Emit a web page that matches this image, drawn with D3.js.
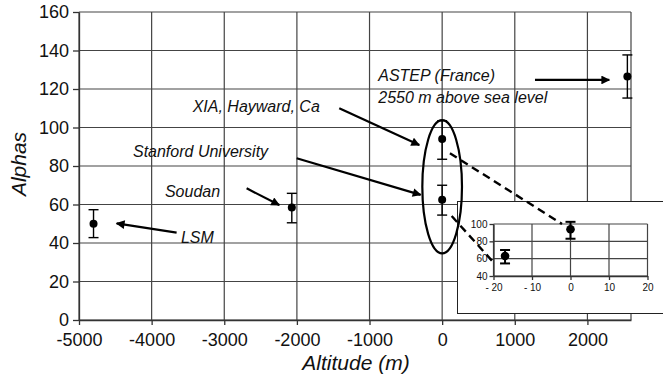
<!DOCTYPE html>
<html>
<head>
<meta charset="utf-8">
<script src="https://cdn.jsdelivr.net/npm/d3@7"></script>
<style>
  body { margin: 0; background: #fff; }
  svg { display: block; font-family: "Liberation Sans", Arial, sans-serif; }
  .grid line { stroke: #444; stroke-width: 1.2; }
  .axis path, .axis line { stroke: #333; stroke-width: 1.3; }
  .axis text { fill: #111; }
  .note { font-style: italic; fill: #111; }
</style>
</head>
<body>
<div id="chart"></div>
<script>
// ---- data ----
var sites    = ["LSM", "Soudan", "Stanford University", "XIA, Hayward, Ca", "ASTEP (France)"];
var altitude = [-4800, -2070, 0, 0, 2550];
var alphas   = [50, 58.5, 62.5, 94, 126.5];
var errLo    = [42.8, 50.5, 54.5, 83.5, 115.3];
var errHi    = [57.3, 65.8, 70, 103.5, 137.7];

var xTicks = [-5000, -4000, -3000, -2000, -1000, 0, 1000, 2000];
var yTicks = [0, 20, 40, 60, 80, 100, 120, 140, 160];

// zoomed inset (altitude in m)
var insetAlt   = [-17, 0];
var insetAlpha = [63, 94];
var insetLo    = [54.5, 83];
var insetHi    = [70, 102.5];
var insetXTicks = [-20, -10, 0, 10, 20];
var insetYTicks = [40, 60, 80, 100];

// annotation text and arrows, in main-chart data units
var labels = [
  {t: "XIA, Hayward, Ca",       x: -3435, y: 108.2},
  {t: "Stanford University",    x: -4257, y: 84.8},
  {t: "Soudan",                 x: -3817, y: 63.7},
  {t: "LSM",                    x: -3596, y: 39.8},
  {t: "ASTEP (France)",         x: -880,  y: 124.2},
  {t: "2550 m above sea level", x: -880,  y: 112.6}
];
var arrows = [
  [[-1417, 110], [-315, 90.9]],
  [[-2003, 84], [-296, 65]],
  [[-2692, 68.4], [-2243, 59.7]],
  [[-3656, 45.4], [-4482, 50.2]],
  [[1278, 124.7], [2301, 124.7]]
];
var dashes = [
  [[107, 86.6], [1650, 49.9]],
  [[131, 54], [727, 29.1]]
];

var width = 663, height = 380;
var margin = {top: 12, right: 32, bottom: 60, left: 79};

var svg = d3.select("#chart").append("svg")
    .attr("width", width)
    .attr("height", height);

svg.append("rect").attr("width", width).attr("height", height).attr("fill", "#fff");

var x = d3.scaleLinear().domain([-5000, 2600]).range([margin.left, width - margin.right]);
var y = d3.scaleLinear().domain([0, 160]).range([height - margin.bottom, margin.top]);

// plain hyphen minus, no thousands separator
var plain = function(d) { return String(d); };

// grid
var grid = svg.append("g").attr("class", "grid");
grid.selectAll(".gx").data(xTicks.concat([2600])).enter().append("line")
    .attr("x1", function(d) { return x(d); }).attr("x2", function(d) { return x(d); })
    .attr("y1", y(0)).attr("y2", y(160));
grid.selectAll(".gy").data(yTicks).enter().append("line")
    .attr("x1", x(-5000)).attr("x2", x(2600))
    .attr("y1", function(d) { return y(d); }).attr("y2", function(d) { return y(d); });

// axes
svg.append("g")
    .attr("class", "axis")
    .attr("transform", "translate(0," + y(0) + ")")
    .call(d3.axisBottom(x).tickValues(xTicks).tickFormat(plain).tickSize(5).tickSizeOuter(0).tickPadding(8))
    .call(function(g) { g.selectAll("text").attr("font-size", 18).attr("dy", "0.71em"); });

svg.append("g")
    .attr("class", "axis")
    .attr("transform", "translate(" + x(-5000) + ",0)")
    .call(d3.axisLeft(y).tickValues(yTicks).tickFormat(plain).tickSize(6).tickSizeOuter(0).tickPadding(4))
    .call(function(g) { g.selectAll("text").attr("font-size", 18); });

svg.append("text")
    .attr("class", "note")
    .attr("x", (x(-5000) + x(2600)) / 2 + 1)
    .attr("y", 370)
    .attr("text-anchor", "middle")
    .attr("font-size", 21)
    .text("Altitude (m)");

svg.append("text")
    .attr("class", "note")
    .attr("transform", "translate(26," + 164 + ") rotate(-90)")
    .attr("text-anchor", "middle")
    .attr("font-size", 21)
    .text("Alphas");

// error bars + points
function drawPoints(g, xs, ys, lo, hi, sx, sy, r, sw) {
  var idx = d3.range(xs.length);
  var cap = 5;
  g.selectAll(null).data(idx).enter().append("line")
    .attr("x1", function(i) { return sx(xs[i]); }).attr("x2", function(i) { return sx(xs[i]); })
    .attr("y1", function(i) { return sy(lo[i]); }).attr("y2", function(i) { return sy(hi[i]); })
    .attr("stroke", "#000").attr("stroke-width", sw);
  [lo, hi].forEach(function(arr) {
    g.selectAll(null).data(idx).enter().append("line")
      .attr("x1", function(i) { return sx(xs[i]) - cap; }).attr("x2", function(i) { return sx(xs[i]) + cap; })
      .attr("y1", function(i) { return sy(arr[i]); }).attr("y2", function(i) { return sy(arr[i]); })
      .attr("stroke", "#000").attr("stroke-width", sw);
  });
  g.selectAll(null).data(idx).enter().append("circle")
    .attr("cx", function(i) { return sx(xs[i]); })
    .attr("cy", function(i) { return sy(ys[i]); })
    .attr("r", r).attr("fill", "#000");
}

drawPoints(svg.append("g"), altitude, alphas, errLo, errHi, x, y, 4, 1.4);

// inset
var inset = svg.append("g");
inset.append("rect")
    .attr("x", 457.5).attr("y", 201.5)
    .attr("width", 240).attr("height", 112)
    .attr("fill", "#fff").attr("stroke", "#222").attr("stroke-width", 1);

var ix = d3.scaleLinear().domain([-20, 20]).range([493.5, 647.5]);
var iy = d3.scaleLinear().domain([40, 100]).range([276, 224]);

var ig = inset.append("g").attr("class", "grid");
ig.selectAll(".gx").data(insetXTicks).enter().append("line")
    .attr("x1", function(d) { return ix(d); }).attr("x2", function(d) { return ix(d); })
    .attr("y1", iy(40)).attr("y2", iy(100));
ig.selectAll(".gy").data(insetYTicks).enter().append("line")
    .attr("x1", ix(-20)).attr("x2", ix(20))
    .attr("y1", function(d) { return iy(d); }).attr("y2", function(d) { return iy(d); });

inset.append("g")
    .attr("class", "axis")
    .attr("transform", "translate(0," + iy(40) + ")")
    .call(d3.axisBottom(ix).tickValues(insetXTicks).tickSize(4).tickSizeOuter(0).tickPadding(4)
      .tickFormat(function(d) { return d < 0 ? "- " + Math.abs(d) : String(d); }))
    .call(function(g) { g.selectAll("text").attr("font-size", 10).attr("dy", "0.71em"); });

inset.append("g")
    .attr("class", "axis")
    .attr("transform", "translate(" + ix(-20) + ",0)")
    .call(d3.axisLeft(iy).tickValues(insetYTicks).tickFormat(plain).tickSize(4).tickSizeOuter(0).tickPadding(2))
    .call(function(g) { g.selectAll("text").attr("font-size", 10); });

drawPoints(inset.append("g"), insetAlt, insetAlpha, insetLo, insetHi, ix, iy, 4.3, 2);

// ellipse round the two sea-level sites
svg.append("ellipse")
    .attr("cx", x(0)).attr("cy", y(69.2))
    .attr("rx", x(273) - x(0)).attr("ry", y(34.6) - y(69.2))
    .attr("fill", "none").attr("stroke", "#000").attr("stroke-width", 2.2);

// arrows
svg.append("defs").append("marker")
    .attr("id", "head")
    .attr("viewBox", "0 0 10 10")
    .attr("refX", 9).attr("refY", 5)
    .attr("markerWidth", 5).attr("markerHeight", 4)
    .attr("markerUnits", "strokeWidth")
    .attr("orient", "auto")
  .append("path")
    .attr("d", "M0,0L10,5L0,10z")
    .attr("fill", "#000");

svg.selectAll(".arrow").data(arrows).enter().append("line")
    .attr("class", "arrow")
    .attr("x1", function(d) { return x(d[0][0]); }).attr("y1", function(d) { return y(d[0][1]); })
    .attr("x2", function(d) { return x(d[1][0]); }).attr("y2", function(d) { return y(d[1][1]); })
    .attr("stroke", "#000").attr("stroke-width", 2.2)
    .attr("marker-end", "url(#head)");

svg.selectAll(".dash").data(dashes).enter().append("line")
    .attr("class", "dash")
    .attr("x1", function(d) { return x(d[0][0]); }).attr("y1", function(d) { return y(d[0][1]); })
    .attr("x2", function(d) { return x(d[1][0]); }).attr("y2", function(d) { return y(d[1][1]); })
    .attr("stroke", "#000").attr("stroke-width", 2.4)
    .attr("stroke-dasharray", "8,5");

svg.selectAll(".lbl").data(labels).enter().append("text")
    .attr("class", "note")
    .attr("x", function(d) { return x(d.x); })
    .attr("y", function(d) { return y(d.y); })
    .attr("font-size", 16)
    .text(function(d) { return d.t; });
</script>
</body>
</html>
